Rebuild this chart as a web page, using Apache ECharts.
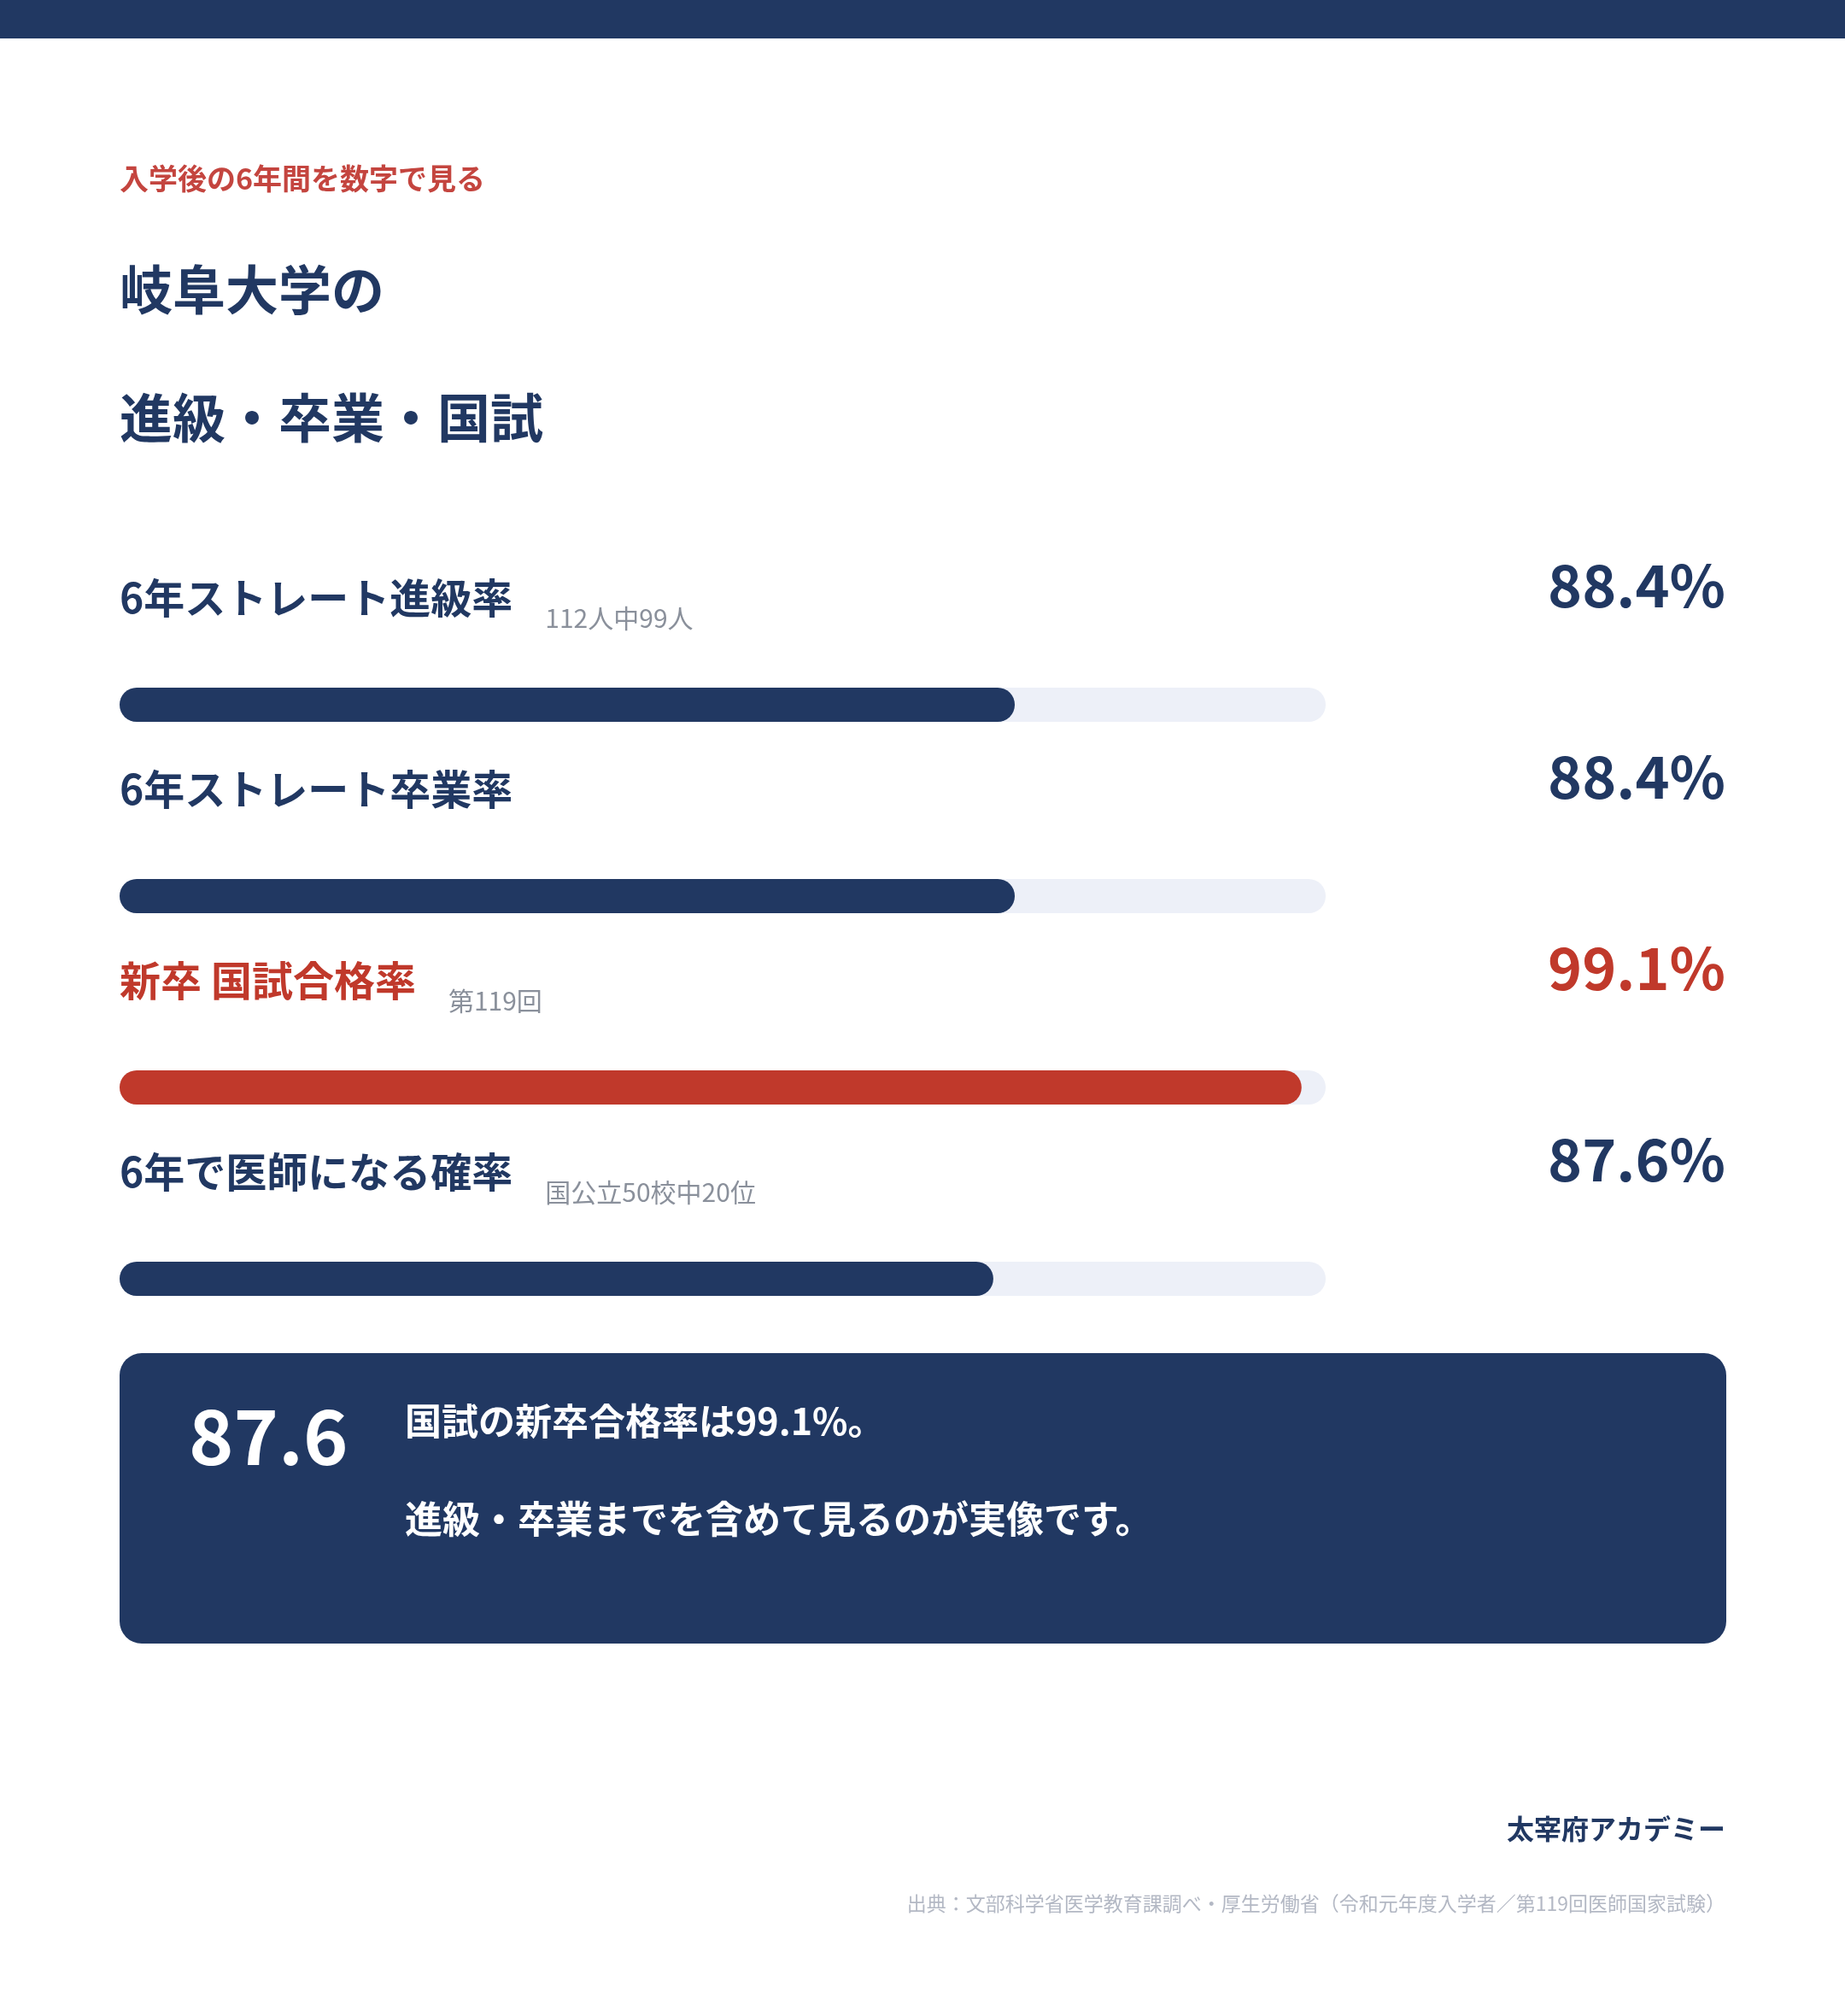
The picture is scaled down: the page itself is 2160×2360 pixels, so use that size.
<!DOCTYPE html>
<html>
<head>
<meta charset="utf-8">
<script src="https://cdn.jsdelivr.net/npm/echarts@6/dist/echarts.min.js"></script>
<style>
  html, body { margin: 0; padding: 0; background: #ffffff; }
  #chart { width: 2160px; height: 2360px; }
</style>
</head>
<body>
<div id="chart"></div>
<script>
var categories = ['6年ストレート進級率', '6年ストレート卒業率', '新卒 国試合格率', '6年で医師になる確率'];
var notes = ['112人中99人', '', '第119回', '国公立50校中20位'];
var rates = [88.4, 88.4, 99.1, 87.6];
var highlightIndex = 2;
var axisMin = 55;
var axisMax = 100;

var NAVY = '#213862';
var RED = '#c0392b';
var GRAY = '#8a909b';
var TRACK = '#edf0f8';
var FONT = '"Noto Sans CJK JP", "Noto Sans", sans-serif';

var myChart = echarts.init(document.getElementById('chart'));

myChart.setOption({
    backgroundColor: '#ffffff',
    animation: false,
    grid: { left: 140, right: 608, top: 713, height: 896 },
    xAxis: { type: 'value', min: axisMin, max: axisMax, show: false },
    yAxis: { type: 'category', data: categories, inverse: true, show: false },
    graphic: [
        { type: 'rect', left: 0, top: 0, shape: { width: 2160, height: 45 }, style: { fill: NAVY } },
        { type: 'text', left: 140, top: 192, style: { text: '入学後の6年間を数字で見る', font: 'bold 34px ' + FONT, fill: '#c4453f' } },
        { type: 'text', left: 140, top: 308, style: { text: '岐阜大学の', font: 'bold 62px ' + FONT, fill: NAVY } },
        { type: 'text', left: 140, top: 458, style: { text: '進級・卒業・国試', font: 'bold 62px ' + FONT, fill: NAVY } },
        { type: 'rect', left: 140, top: 1584, shape: { width: 1881, height: 340, r: 26 }, style: { fill: NAVY } },
        { type: 'text', left: 221, top: 1637, style: { text: '87.6', font: 'bold 89px ' + FONT, fill: '#ffffff' } },
        { type: 'text', left: 474, top: 1642, style: { text: '国試の新卒合格率は99.1%。', font: 'bold 43px ' + FONT, fill: '#ffffff' } },
        { type: 'text', left: 474, top: 1756, style: { text: '進級・卒業までを含めて見るのが実像です。', font: 'bold 44px ' + FONT, fill: '#ffffff' } },
        { type: 'text', right: 140, top: 2125, style: { text: '太宰府アカデミー', font: 'bold 32px ' + FONT, fill: NAVY } },
        { type: 'text', right: 140, top: 2217, style: { text: '出典：文部科学省医学教育課調べ・厚生労働省（令和元年度入学者／第119回医師国家試験）', font: '23px ' + FONT, fill: '#b3b8c4' } }
    ],
    series: [
        {
            type: 'bar',
            barWidth: 40,
            showBackground: true,
            backgroundStyle: { color: TRACK, borderRadius: 20 },
            itemStyle: { borderRadius: 20 },
            data: rates.map(function (v, i) {
                return { value: v, itemStyle: { color: i === highlightIndex ? RED : NAVY } };
            })
        },
        {
            type: 'custom',
            clip: false,
            data: rates.map(function (v, i) { return [axisMin, i, v]; }),
            encode: { x: 0, y: 1 },
            renderItem: function (params, api) {
                var i = params.dataIndex;
                var p = api.coord([axisMin, i]);
                var color = i === highlightIndex ? RED : NAVY;
                var txt = '{a|' + categories[i] + '}' + (notes[i] ? '{b|' + notes[i] + '}' : '');
                return {
                    type: 'group',
                    children: [
                        {
                            type: 'text', x: p[0], y: p[1] - 125,
                            style: {
                                text: txt, align: 'left', verticalAlign: 'middle',
                                rich: {
                                    a: { fontSize: 48, fontWeight: 'bold', fontFamily: FONT, fill: color, lineHeight: 78 },
                                    b: { fontSize: 30, fontFamily: FONT, fill: GRAY, lineHeight: 30, verticalAlign: 'bottom', padding: [0, 0, 0, 38] }
                                }
                            }
                        },
                        {
                            type: 'text', x: 2020, y: p[1] - 140,
                            style: {
                                text: api.value(2).toFixed(1) + '%', align: 'right', verticalAlign: 'middle',
                                font: 'bold 68px ' + FONT, fill: color
                            }
                        }
                    ]
                };
            }
        }
    ]
});
</script>
</body>
</html>
